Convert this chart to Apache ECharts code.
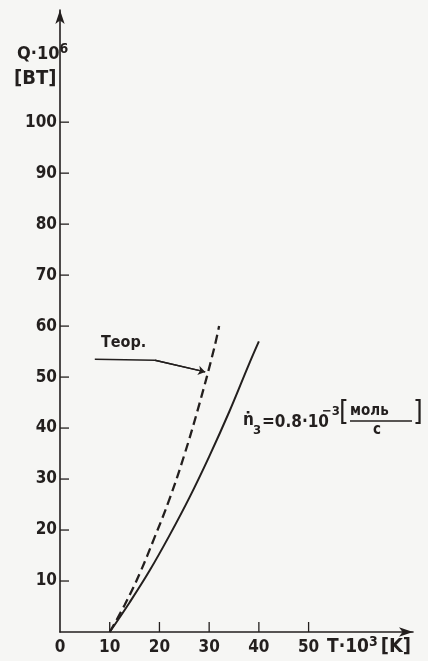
<!DOCTYPE html>
<html><head><meta charset="utf-8">
<script src="https://cdn.jsdelivr.net/npm/echarts@6/dist/echarts.min.js"></script>
<style>html,body{margin:0;padding:0;background:#f6f6f4}#c{width:428px;height:661px}</style>
</head><body><div id="c"></div>
<script>
// Data
const xTickLabels = [0, 10, 20, 30, 40, 50];
const xTickMarks = [10, 20, 30, 40, 50];
const yTickLabels = [10, 20, 30, 40, 50, 60, 70, 80, 90, 100];
const solidT = [10, 14, 18, 22, 26, 30, 34, 38, 40];
const solidQ = [0, 5.8, 12, 18.9, 26.3, 34.4, 43.1, 52.5, 57];
const theorT = [10, 13, 16, 19, 22, 25, 28, 31, 32];
const theorQ = [0, 5.3, 11.4, 18.5, 26, 34.7, 44.6, 55.6, 60];
const leaderT = [7, 19.1, 29.2];
const leaderQ = [53.5, 53.3, 51];

const ink = '#231f1e';
const FONT = '"DejaVu Sans Condensed","Liberation Sans Narrow","DejaVu Sans",sans-serif';
const zip = (a, b) => a.map((v, i) => [v, b[i]]);

// tick marks drawn inward through the axis scales
const tickData = xTickMarks.map(v => ['x', v]).concat(yTickLabels.map(v => ['y', v]));

const chart = echarts.init(document.getElementById('c'));
chart.setOption({
  backgroundColor: '#f6f6f4',
  animation: false,
  grid: { left: 60, right: 15, top: 10, bottom: 29, containLabel: false, outerBoundsMode: 'none' },
  xAxis: {
    type: 'value', min: 0, max: 71, interval: 10,
    splitLine: { show: false },
    axisLine: { show: true, symbol: ['none', 'arrow'], symbolSize: [7, 14], lineStyle: { color: ink, width: 1.6 } },
    axisTick: { show: false },
    axisLabel: { customValues: xTickLabels, color: ink, fontFamily: FONT, fontSize: 17, fontWeight: 'bold', margin: 7 }
  },
  yAxis: {
    type: 'value', min: 0, max: 122, interval: 10,
    splitLine: { show: false },
    axisLine: { show: true, symbol: ['none', 'arrow'], symbolSize: [7, 14], lineStyle: { color: ink, width: 1.6 } },
    axisTick: { show: false },
    axisLabel: { customValues: yTickLabels, color: ink, fontFamily: FONT, fontSize: 17, fontWeight: 'bold', margin: 3 }
  },
  series: [
    {
      type: 'custom', silent: true, data: tickData,
      encode: { x: -1, y: -1 },
      renderItem: function (params, api) {
        const axis = api.value(0);
        const v = api.value(1);
        let p, q;
        if (axis === 'x') { p = api.coord([v, 0]); q = [p[0], p[1] - 10]; }
        else { p = api.coord([0, v]); q = [p[0] + 9, p[1]]; }
        return { type: 'line', shape: { x1: p[0], y1: p[1], x2: q[0], y2: q[1] }, style: { stroke: ink, lineWidth: 1.3 } };
      }
    },
    {
      type: 'line', data: zip(solidT, solidQ), smooth: 0.4, symbol: 'none', silent: true,
      lineStyle: { color: ink, width: 2 }
    },
    {
      type: 'line', data: zip(theorT, theorQ), smooth: 0.4, symbol: 'none', silent: true,
      lineStyle: { color: ink, width: 2.3, type: [9, 5] }
    },
    {
      type: 'line', data: zip(leaderT, leaderQ), smooth: false, symbol: 'none', silent: true,
      lineStyle: { color: ink, width: 1.3 },
      markLine: {
        silent: true, symbol: ['none', 'arrow'], symbolSize: 7,
        label: { show: false },
        lineStyle: { color: ink, width: 1.3, type: 'solid' },
        data: [[{ coord: [leaderT[1], leaderQ[1]] }, { coord: [leaderT[2], leaderQ[2]] }]]
      }
    }
  ],
  graphic: [
    { type: 'text', left: 17, top: 42, style: { text: '{b|Q·10}{s|6}', rich: {
        b: { fontFamily: FONT, fontSize: 18, fontWeight: 'bold', fill: ink },
        s: { fontFamily: FONT, fontSize: 14, fontWeight: 'bold', fill: ink, padding: [0, 0, 10, 0] } } } },
    { type: 'text', left: 14, top: 69, style: { text: '[ВТ]', font: 'bold 20px ' + FONT, fill: ink } },
    { type: 'text', left: 101, top: 335, style: { text: 'Теор.', font: 'bold 16px ' + FONT, fill: ink } },
    { type: 'text', left: 327, top: 635, style: { text: '{b|T·10}{s|3}{k|[K]}', rich: {
        b: { fontFamily: FONT, fontSize: 19, fontWeight: 'bold', fill: ink },
        s: { fontFamily: FONT, fontSize: 14, fontWeight: 'bold', fill: ink, padding: [0, 0, 10, 0] },
        k: { fontFamily: FONT, fontSize: 20, fontWeight: 'bold', fill: ink, padding: [0, 0, 0, 3] } } } },
    { type: 'text', left: 243, top: 412, style: { text: 'ṅ', font: 'bold 17px ' + FONT, fill: ink } },
    { type: 'text', left: 253, top: 424, style: { text: '3', font: 'bold 13px ' + FONT, fill: ink } },
    { type: 'text', left: 262, top: 414, style: { text: '=0.8·10', font: 'bold 17px ' + FONT, fill: ink } },
    { type: 'text', left: 322, top: 405, style: { text: '−3', font: 'bold 13px ' + FONT, fill: ink } },
    { type: 'text', left: 339, top: 400, style: { text: '[', font: '28px ' + FONT, fill: ink } },
    { type: 'text', left: 350, top: 404, style: { text: 'моль', font: 'bold 15px ' + FONT, fill: ink } },
    { type: 'line', shape: { x1: 350, y1: 421, x2: 412, y2: 421 }, style: { stroke: ink, lineWidth: 1.5 } },
    { type: 'text', left: 373, top: 423, style: { text: 'с', font: 'bold 15px ' + FONT, fill: ink } },
    { type: 'text', left: 413, top: 400, style: { text: ']', font: '28px ' + FONT, fill: ink } }
  ]
});
</script></body></html>
